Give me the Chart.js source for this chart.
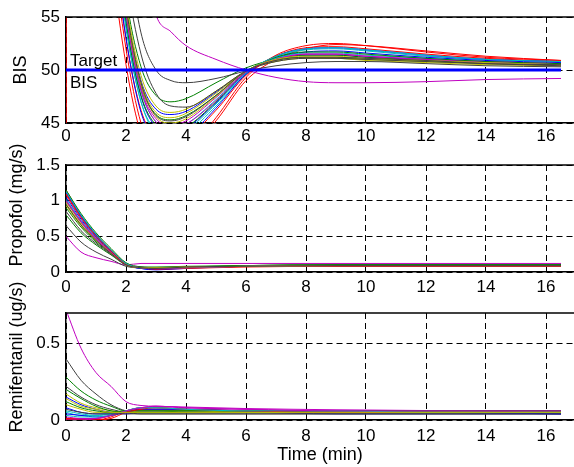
<!DOCTYPE html>
<html>
<head>
<meta charset="utf-8">
<script src="https://cdn.jsdelivr.net/npm/chart.js@4.4.1/dist/chart.umd.min.js"></script>
<style>
  body { margin: 0; background: #fff; }
  #wrap { position: relative; width: 574px; height: 467px; overflow: hidden; }
  canvas { position: absolute; left: 0; }
</style>
</head>
<body>
<div id="wrap">
  <canvas id="bisChart" width="600" height="150" style="top:0px"></canvas>
  <canvas id="propChart" width="600" height="160" style="top:140px"></canvas>
  <canvas id="remiChart" width="600" height="217" style="top:250px"></canvas>
</div>
<script>
// sample times (min)
const bisTime = [0, 1, 1.5, 2, 2.5, 3, 3.5, 4, 5, 6, 7, 8, 9, 10, 12, 14, 16.5];
const drugTime = [0, 0.5, 1, 1.5, 2, 2.5, 3, 4, 6, 9, 12, 16.5];

const xTicks = [0, 2, 4, 6, 8, 10, 12, 14, 16];
const bisTicks = [45, 50, 55];
const propofolTicks = [0, 0.5, 1, 1.5];
const remiTicks = [0, 0.5];

const targetTime = [0, 16.5];
const targetBis = [50, 50];
const initialTime = [0, 0];
const initialBis = [0, 97];

// matlab default line order
const patientColors = ['#0000ff', '#008000', '#ff0000', '#00bfbf', '#c000c0', '#bfbf00', '#404040'];

const bis = [
  [96, 80, 68, 56, 49, 46.3, 45.8, 46.1, 47.9, 49.9, 51.0, 51.4, 51.4, 51.2, 51.0, 50.8, 50.6],
  [96, 82, 70, 57, 50.3, 47.6, 47.0, 47.3, 48.8, 50.2, 51.0, 51.2, 51.1, 51.0, 50.8, 50.6, 50.4],
  [97, 78, 63, 52, 45, 42.5, 41.8, 42.3, 45.2, 49.0, 51.0, 52.0, 52.4, 52.3, 51.8, 51.3, 50.9],
  [96, 79, 65, 54, 47, 44, 43.5, 44, 46.6, 49.6, 51.2, 51.9, 52.0, 51.8, 51.3, 51.0, 50.8],
  [97, 86, 78, 70, 62, 55.2, 53.6, 52.3, 51.0, 50.0, 49.3, 48.9, 48.8, 48.8, 48.9, 49.1, 49.2],
  [96, 81, 69, 56.5, 49.5, 46.6, 46.0, 46.3, 48.0, 49.9, 50.8, 51.1, 51.1, 50.9, 50.7, 50.5, 50.4],
  [97, 85, 73, 62, 53.5, 50.0, 49.0, 48.8, 49.2, 49.9, 50.4, 50.7, 50.8, 50.8, 50.6, 50.4, 50.3],
  [96, 79, 66, 54.5, 47.5, 44.6, 44.0, 44.5, 46.9, 49.7, 51.1, 51.7, 51.8, 51.6, 51.2, 50.9, 50.7],
  [96, 80, 67, 55.5, 48.5, 45.8, 45.3, 45.7, 47.6, 49.9, 51.0, 51.4, 51.4, 51.2, 50.9, 50.7, 50.5],
  [97, 79, 64, 53, 46.2, 43.6, 43.0, 43.5, 46.2, 49.5, 51.3, 52.1, 52.2, 52.0, 51.5, 51.1, 50.8],
  [96, 80, 66, 55, 48, 45.1, 44.5, 44.9, 47.2, 49.8, 51.1, 51.6, 51.6, 51.4, 51.1, 50.8, 50.6],
  [96, 80, 67, 55.5, 48.3, 45.4, 44.8, 45.2, 47.4, 49.8, 51.0, 51.5, 51.5, 51.3, 51.0, 50.8, 50.6],
  [96, 81, 68, 56, 48.9, 46.0, 45.5, 45.9, 47.8, 49.9, 50.9, 51.2, 51.2, 51.0, 50.8, 50.6, 50.5],
  [96, 83, 71, 59, 51.5, 47.8, 46.6, 46.5, 48.0, 49.9, 50.8, 51.1, 51.1, 51.0, 50.8, 50.6, 50.4],
  [97, 78, 64, 53, 46, 43.5, 43.0, 43.6, 46.4, 49.6, 51.3, 52.0, 52.1, 51.9, 51.4, 51.0, 50.8],
  [96, 79, 66, 54.5, 47.6, 44.8, 44.2, 44.6, 47.0, 49.8, 51.2, 51.7, 51.7, 51.5, 51.1, 50.8, 50.6],
  [97, 76, 61, 50.5, 44, 42, 41.6, 42.2, 45.5, 49.3, 51.4, 52.3, 52.5, 52.3, 51.7, 51.2, 50.9],
  [96, 79, 65, 54, 47, 44.3, 43.8, 44.3, 46.8, 49.7, 51.3, 52.0, 52.1, 51.9, 51.4, 51.0, 50.8],
  [96, 80, 66.5, 55.2, 48.1, 45.1, 44.5, 44.9, 47.1, 49.8, 51.0, 51.5, 51.5, 51.3, 51.0, 50.7, 50.5],
  [96, 80, 67, 55.8, 48.6, 45.6, 45.0, 45.4, 47.5, 49.9, 51.0, 51.3, 51.3, 51.1, 50.9, 50.7, 50.5],
  [96, 81, 68, 56, 48.8, 45.7, 45.2, 45.6, 47.6, 49.9, 50.9, 51.2, 51.2, 51.1, 50.9, 50.6, 50.5]
];

const propofol = [
  [1.0, 0.7, 0.46, 0.27, 0.1, 0.05, 0.04, 0.06, 0.08, 0.09, 0.09, 0.09],
  [0.8, 0.55, 0.38, 0.24, 0.1, 0.07, 0.07, 0.08, 0.09, 0.1, 0.1, 0.1],
  [1.15, 0.8, 0.53, 0.31, 0.12, 0.06, 0.05, 0.06, 0.08, 0.09, 0.09, 0.09],
  [1.1, 0.77, 0.51, 0.3, 0.11, 0.06, 0.05, 0.06, 0.08, 0.09, 0.09, 0.09],
  [0.5, 0.28, 0.2, 0.15, 0.1, 0.12, 0.12, 0.12, 0.12, 0.12, 0.12, 0.12],
  [0.95, 0.67, 0.45, 0.27, 0.1, 0.06, 0.06, 0.07, 0.08, 0.09, 0.09, 0.09],
  [0.65, 0.42, 0.28, 0.18, 0.08, 0.06, 0.06, 0.07, 0.08, 0.08, 0.08, 0.08],
  [1.05, 0.74, 0.49, 0.29, 0.11, 0.05, 0.04, 0.06, 0.08, 0.09, 0.09, 0.09],
  [0.9, 0.63, 0.42, 0.26, 0.1, 0.06, 0.06, 0.07, 0.09, 0.1, 0.1, 0.1],
  [1.1, 0.78, 0.52, 0.31, 0.12, 0.06, 0.05, 0.06, 0.08, 0.09, 0.09, 0.09],
  [1.02, 0.72, 0.48, 0.28, 0.11, 0.06, 0.05, 0.06, 0.08, 0.09, 0.09, 0.09],
  [1.0, 0.71, 0.47, 0.28, 0.11, 0.06, 0.05, 0.06, 0.08, 0.09, 0.09, 0.09],
  [0.98, 0.69, 0.46, 0.27, 0.1, 0.06, 0.05, 0.07, 0.08, 0.09, 0.09, 0.09],
  [0.85, 0.58, 0.4, 0.25, 0.1, 0.07, 0.06, 0.07, 0.08, 0.09, 0.09, 0.09],
  [1.12, 0.79, 0.52, 0.3, 0.11, 0.05, 0.03, 0.05, 0.08, 0.09, 0.09, 0.09],
  [1.15, 0.82, 0.55, 0.33, 0.13, 0.07, 0.05, 0.06, 0.09, 0.1, 0.1, 0.1],
  [1.08, 0.76, 0.5, 0.29, 0.11, 0.06, 0.04, 0.05, 0.07, 0.08, 0.08, 0.08],
  [1.13, 0.8, 0.53, 0.31, 0.12, 0.06, 0.05, 0.06, 0.08, 0.09, 0.09, 0.09],
  [1.0, 0.7, 0.46, 0.27, 0.1, 0.06, 0.05, 0.06, 0.08, 0.09, 0.09, 0.09],
  [0.93, 0.65, 0.44, 0.26, 0.1, 0.06, 0.06, 0.07, 0.08, 0.09, 0.09, 0.09],
  [0.95, 0.66, 0.44, 0.26, 0.1, 0.06, 0.05, 0.07, 0.08, 0.09, 0.09, 0.09]
];

const remifentanil = [
  [0.15, 0.1, 0.07, 0.05, 0.04, 0.05, 0.05, 0.05, 0.05, 0.04, 0.04, 0.04],
  [0.28, 0.19, 0.13, 0.09, 0.06, 0.06, 0.06, 0.06, 0.06, 0.06, 0.06, 0.06],
  [0.0, 0.0, 0.0, 0.02, 0.06, 0.07, 0.07, 0.07, 0.06, 0.05, 0.05, 0.05],
  [0.05, 0.03, 0.03, 0.04, 0.06, 0.08, 0.08, 0.07, 0.06, 0.06, 0.05, 0.05],
  [0.72, 0.47, 0.31, 0.22, 0.12, 0.095, 0.09, 0.085, 0.075, 0.067, 0.062, 0.06],
  [0.17, 0.11, 0.08, 0.06, 0.05, 0.05, 0.05, 0.05, 0.05, 0.05, 0.05, 0.05],
  [0.4, 0.26, 0.17, 0.1, 0.06, 0.05, 0.05, 0.05, 0.05, 0.05, 0.05, 0.05],
  [0.08, 0.05, 0.04, 0.04, 0.05, 0.06, 0.06, 0.06, 0.05, 0.05, 0.05, 0.04],
  [0.2, 0.14, 0.09, 0.06, 0.05, 0.05, 0.05, 0.06, 0.06, 0.06, 0.06, 0.06],
  [0.01, 0.01, 0.01, 0.03, 0.06, 0.08, 0.08, 0.07, 0.06, 0.06, 0.05, 0.05],
  [0.06, 0.04, 0.03, 0.04, 0.06, 0.08, 0.08, 0.07, 0.06, 0.06, 0.06, 0.05],
  [0.02, 0.01, 0.01, 0.03, 0.06, 0.08, 0.09, 0.08, 0.07, 0.06, 0.06, 0.05],
  [0.1, 0.07, 0.05, 0.05, 0.05, 0.06, 0.06, 0.06, 0.05, 0.05, 0.05, 0.05],
  [0.22, 0.15, 0.1, 0.07, 0.05, 0.04, 0.04, 0.04, 0.04, 0.04, 0.04, 0.04],
  [0.04, 0.03, 0.02, 0.03, 0.05, 0.07, 0.07, 0.07, 0.06, 0.05, 0.05, 0.04],
  [0.12, 0.08, 0.06, 0.05, 0.06, 0.06, 0.06, 0.06, 0.06, 0.06, 0.06, 0.06],
  [0.0, 0.0, 0.0, 0.01, 0.05, 0.07, 0.08, 0.07, 0.06, 0.05, 0.05, 0.05],
  [0.03, 0.02, 0.02, 0.03, 0.06, 0.08, 0.08, 0.07, 0.06, 0.06, 0.05, 0.05],
  [0.0, 0.0, 0.01, 0.03, 0.06, 0.08, 0.09, 0.08, 0.07, 0.06, 0.06, 0.06],
  [0.14, 0.09, 0.07, 0.05, 0.05, 0.05, 0.05, 0.05, 0.05, 0.05, 0.05, 0.05],
  [0.07, 0.05, 0.04, 0.04, 0.04, 0.04, 0.04, 0.04, 0.04, 0.04, 0.04, 0.04]
];

const FONT = "'Liberation Sans', Arial, sans-serif";

function xy(times, vals) {
  return vals.map((v, k) => ({ x: times[k], y: v }));
}

// later patients on top, like matlab's hold on
function patientSets(series, times) {
  const sets = series.map((vals, i) => ({
    data: xy(times, vals),
    borderColor: patientColors[i % patientColors.length],
    borderWidth: 1,
    pointRadius: 0,
    cubicInterpolationMode: 'monotone'
  }));
  return sets.reverse();
}

const topBorder = {
  id: 'topBorder',
  afterDraw(chart) {
    const { ctx, chartArea: a } = chart;
    ctx.save();
    ctx.strokeStyle = '#000';
    ctx.lineWidth = 1.5;
    ctx.beginPath();
    ctx.moveTo(a.left, a.top);
    ctx.lineTo(a.right, a.top);
    ctx.stroke();
    ctx.restore();
  }
};

const textBits = {
  id: 'textBits',
  afterDraw(chart, args, opts) {
    const ctx = chart.ctx;
    ctx.save();
    ctx.fillStyle = '#000';
    (opts.items || []).forEach(t => {
      ctx.save();
      ctx.font = t.size + 'px ' + FONT;
      ctx.translate(t.x, t.y);
      if (t.rotate) ctx.rotate(-Math.PI / 2);
      ctx.textAlign = t.align || 'left';
      ctx.textBaseline = t.baseline || 'alphabetic';
      ctx.fillText(t.text, 0, 0);
      ctx.restore();
    });
    ctx.restore();
  }
};

function makeChart(id, datasets, cfg) {
  const tickFont = { family: FONT, size: 17 };
  return new Chart(document.getElementById(id), {
    type: 'line',
    data: { datasets },
    plugins: [topBorder, textBits],
    options: {
      responsive: false,
      animation: false,
      devicePixelRatio: 1,
      events: [],
      layout: { padding: { top: cfg.padTop, left: 0, right: 0, bottom: 0 } },
      plugins: {
        legend: { display: false },
        tooltip: { enabled: false },
        textBits: { items: cfg.texts }
      },
      scales: {
        x: {
          type: 'linear',
          min: 0,
          max: 17.8,   // axis runs past the cropped right edge
          afterBuildTicks: s => { s.ticks = xTicks.map(v => ({ value: v })); },
          afterFit: s => { s.height = cfg.xAxisH; },
          ticks: { font: tickFont, color: '#000', padding: cfg.xPad, maxRotation: 0, callback: v => String(v) },
          grid: { color: '#000', lineWidth: 1, drawTicks: false },
          border: { display: true, color: '#000', width: 1.5, dash: [6, 4] }
        },
        y: {
          min: cfg.yMin,
          max: cfg.yMax,
          afterBuildTicks: s => { s.ticks = cfg.yTicks.map(v => ({ value: v })); },
          afterFit: s => { s.width = 66; },
          ticks: { font: tickFont, color: '#000', padding: 6, callback: v => String(v) },
          grid: { color: '#000', lineWidth: 1, drawTicks: false },
          border: { display: true, color: '#000', width: 1.5, dash: [6, 4] }
        }
      }
    }
  });
}

// BIS
makeChart('bisChart', [
  { data: xy(targetTime, targetBis), borderColor: '#0000ff', borderWidth: 3, pointRadius: 0 },
  ...patientSets(bis, bisTime),
  { data: xy(initialTime, initialBis), borderColor: '#ff0000', borderWidth: 1.5, pointRadius: 0 }
], {
  padTop: 17, xAxisH: 27, xPad: 3, yMin: 45, yMax: 55, yTicks: bisTicks,
  texts: [
    { text: 'BIS', x: 21, y: 70, size: 18, rotate: true, align: 'center', baseline: 'middle' },
    { text: 'Target', x: 70, y: 66, size: 17 },
    { text: 'BIS', x: 70, y: 88, size: 17 }
  ]
});

// Propofol
makeChart('propChart', patientSets(propofol, drugTime), {
  padTop: 25, xAxisH: 28, xPad: 5, yMin: 0, yMax: 1.5, yTicks: propofolTicks,
  texts: [
    { text: 'Propofol (mg/s)', x: 17, y: 65, size: 18, rotate: true, align: 'center', baseline: 'middle' }
  ]
});

// Remifentanil
makeChart('remiChart', patientSets(remifentanil, drugTime), {
  padTop: 63, xAxisH: 47, xPad: 6, yMin: 0, yMax: 0.7, yTicks: remiTicks,
  texts: [
    { text: 'Remifentanil (ug/s)', x: 17, y: 107, size: 18, rotate: true, align: 'center', baseline: 'middle' },
    { text: 'Time (min)', x: 320, y: 205, size: 18, align: 'center', baseline: 'middle' }
  ]
});
</script>
</body>
</html>
